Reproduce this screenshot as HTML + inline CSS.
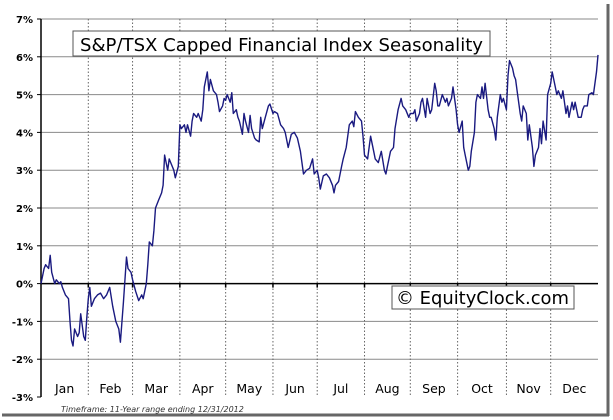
<!DOCTYPE html>
<html><head><meta charset="utf-8"><style>
html,body{margin:0;padding:0;background:#fff;}
svg{display:block;}
text{font-family:"DejaVu Sans","Liberation Sans",sans-serif;}
</style></head><body>
<svg id="chart" width="613" height="420" viewBox="0 0 613 420" xmlns="http://www.w3.org/2000/svg">
<rect x="0" y="0" width="613" height="420" fill="#fff"/>
<line x1="608" y1="4" x2="608" y2="416" stroke="#666" stroke-width="3"/>
<line x1="2" y1="415" x2="609" y2="415" stroke="#666" stroke-width="3"/>
<g id="grid"></g>
<g id="axes"></g>
<g id="series"></g>
<g>
<rect x="73" y="31" width="417" height="25" fill="#fff" stroke="#555" stroke-width="1"/>
<text x="80" y="51" font-size="18" textLength="403" lengthAdjust="spacingAndGlyphs" fill="#000">S&amp;P/TSX Capped Financial Index Seasonality</text>
</g>
<g>
<rect x="392" y="286" width="182" height="23" fill="#fff" stroke="#555" stroke-width="1"/>
<text x="396" y="304" font-size="18" textLength="173" lengthAdjust="spacingAndGlyphs" fill="#000">© EquityClock.com</text>
</g>
<text x="61" y="412" font-size="8" font-style="italic" fill="#333">Timeframe: 11-Year range ending 12/31/2012</text>
</svg>
<script>
const yTicks=[7,6,5,4,3,2,1,0,-1,-2,-3];
const yTickLabels=["7%","6%","5%","4%","3%","2%","1%","0%","-1%","-2%","-3%"];
const months=["Jan","Feb","Mar","Apr","May","Jun","Jul","Aug","Sep","Oct","Nov","Dec"];
const monthStarts=[0,31,60,91,121,152,181,212,242,273,305,334,365];
const days=[0,2,3,5,6,7,9,10,12,13,14,16,18,19,20,21,22,24,25,26,28,29,30,31,
32,33,35,37,39,41,43,45,47,49,51,52,54,56,57,59,60,
62,64,66,67,69,70,71,73,74,75,77,79,80,81,83,84,85,87,88,90,91,
92,94,95,96,98,99,100,102,103,105,106,107,109,110,111,113,115,116,117,119,120,121,
122,124,125,126,128,129,130,132,133,134,136,137,138,140,141,143,144,145,147,149,150,152,
153,155,157,159,160,162,164,166,168,170,172,173,174,176,178,179,181,
182,183,185,187,189,191,192,193,195,197,198,200,202,204,205,206,208,210,211,212,
214,215,216,218,219,221,223,225,226,227,229,231,232,234,236,237,239,241,242,
244,245,246,248,249,250,252,253,255,256,258,259,260,261,263,265,266,267,269,270,272,273,
274,276,277,278,280,281,282,284,285,286,288,289,290,291,293,294,295,297,298,299,301,302,303,305,
306,307,309,310,311,312,314,315,316,318,319,320,322,323,324,326,327,328,329,331,332,334,
335,337,338,339,341,342,344,345,346,348,349,350,352,354,355,356,358,359,361,362,364,365];
const values=[0,0.4,0.5,0.4,0.75,0.3,0,0.1,0,0.05,-0.1,-0.3,-0.4,-1.0,-1.5,-1.65,-1.2,-1.4,-1.3,-0.8,-1.4,-1.5,-0.9,-0.4,
-0.1,-0.6,-0.4,-0.3,-0.25,-0.4,-0.3,-0.1,-0.6,-1.0,-1.2,-1.55,-0.5,0.7,0.4,0.3,0.1,
-0.2,-0.45,-0.3,-0.4,0,0.5,1.1,1.0,1.4,2.0,2.2,2.4,2.6,3.4,3.0,3.3,3.2,3.0,2.8,3.1,4.2,
4.1,4.2,4.0,4.2,3.9,4.3,4.5,4.4,4.5,4.3,4.6,5.2,5.6,5.1,5.4,5.1,5.0,4.8,4.55,4.7,4.9,4.85,
5.0,4.8,5.05,4.5,4.6,4.4,4.3,3.95,4.5,4.3,4.0,4.45,4.1,3.85,3.8,3.75,4.4,4.1,4.4,4.7,4.75,4.5,
4.55,4.5,4.2,4.1,4.0,3.6,3.95,4.0,3.85,3.5,2.9,2.95,3.0,3.05,3.3,2.9,3.0,
2.8,2.5,2.85,2.9,2.8,2.6,2.4,2.6,2.7,3.1,3.3,3.6,4.2,4.3,4.15,4.55,4.4,4.3,3.9,3.4,
3.3,3.6,3.9,3.5,3.3,3.2,3.5,3.0,2.9,3.1,3.5,3.6,4.1,4.6,4.9,4.7,4.6,4.4,4.5,
4.5,4.6,4.3,4.5,4.8,4.9,4.4,4.9,4.5,4.6,5.3,5.1,4.7,4.7,5.0,4.8,4.9,4.7,4.9,5.2,4.6,4.2,
4.0,4.3,3.6,3.4,3.0,3.1,3.5,4.0,4.8,5.0,4.9,5.2,4.9,5.3,4.6,4.4,4.4,4.1,3.8,4.4,5.0,4.8,4.9,4.6,
5.5,5.9,5.7,5.5,5.4,5.1,4.5,4.3,4.7,4.5,3.8,4.2,3.6,3.1,3.4,3.6,4.1,3.7,4.3,3.8,5.0,5.3,
5.6,5.2,5.0,5.1,4.9,5.1,4.5,4.7,4.4,4.8,4.6,4.8,4.4,4.4,4.6,4.7,4.7,5.0,5.05,5.0,5.6,6.05];

const NS="http://www.w3.org/2000/svg";
const X0=41,X1=598,Y0=19,Y1=397,VMAX=7,VMIN=-3,DMAX=365;
function xs(d){return X0+(d/DMAX)*(X1-X0);}
function ys(v){return Y0+(VMAX-v)/(VMAX-VMIN)*(Y1-Y0);}
function mk(tag,attrs,parent){const e=document.createElementNS(NS,tag);for(const k in attrs)e.setAttribute(k,attrs[k]);parent.appendChild(e);return e;}
const grid=document.getElementById('grid'),axes=document.getElementById('axes'),series=document.getElementById('series');

yTicks.forEach((v,i)=>{
  const y=ys(v);
  if(v!==0&&v!==VMIN){
    const g=mk('line',{x1:X0,y1:y,x2:X1,y2:y,stroke:'#8a8a8a','stroke-width':1},grid);
    
    
  }
  const t=mk('line',{x1:X0-4,y1:y,x2:X0,y2:y,stroke:'#000','stroke-width':1},axes);
  
  
  const lbl=mk('text',{x:X0-8,y:y+4,'text-anchor':'end','font-size':10,'font-weight':'bold',fill:'#000'},axes);
  lbl.textContent=yTickLabels[i];
  
  
});
for(let i=1;i<monthStarts.length-1;i++){
  const x=xs(monthStarts[i]);
  const d=mk('line',{x1:x,y1:Y0,x2:x,y2:Y1,stroke:'#666','stroke-width':1,'stroke-dasharray':'1.5,2'},grid);
  
  
  const tk=mk('line',{x1:x,y1:ys(0),x2:x,y2:ys(0)+4,stroke:'#000','stroke-width':1.5},axes);
  
  
}
months.forEach((m,i)=>{
  const x=(xs(monthStarts[i])+xs(monthStarts[i+1]))/2;
  const t=mk('text',{x:x,y:393,'text-anchor':'middle','font-size':12.5,fill:'#000'},axes);
  t.textContent=m;
  
  
});
const zl=mk('line',{x1:X0,y1:ys(0),x2:X1,y2:ys(0),stroke:'#000','stroke-width':1.5},axes);


const ya=mk('line',{x1:X0,y1:Y0,x2:X0,y2:Y1,stroke:'#000','stroke-width':1.5},axes);


let dstr='';
days.forEach((d,i)=>{dstr+=(i?'L':'M')+xs(d).toFixed(1)+','+ys(values[i]).toFixed(1);});
const ln=mk('path',{d:dstr,fill:'none',stroke:'#1a1a80','stroke-width':1.4,'stroke-linejoin':'round'},series);


</script>
</body></html>
